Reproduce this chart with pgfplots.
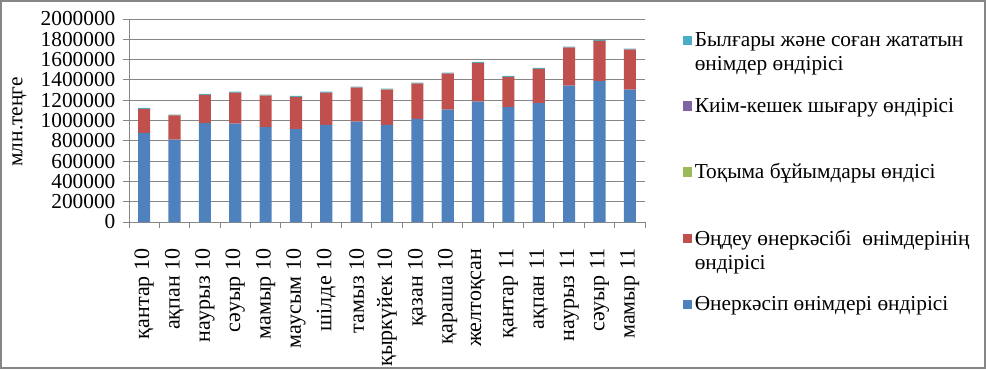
\documentclass[border=0pt]{standalone}
\usepackage{fontspec}
\setmainfont{Liberation Serif}
\usepackage{pgfplots}
\usepackage{pgfplotstable}
\pgfplotsset{compat=1.18}
\definecolor{cblue}{HTML}{4F81BD}
\definecolor{cred}{HTML}{C0504D}
\definecolor{cgreen}{HTML}{9BBB59}
\definecolor{cpurple}{HTML}{8064A2}
\definecolor{ccyan}{HTML}{4BACC6}
\definecolor{cgrid}{HTML}{868686}
\pgfplotstableread{
x blue red green purple cyan
0 877000 236000 1500 1000 10000
1 811000 240000 1500 1000 5000
2 975000 276000 1500 1000 8000
3 969000 302000 1500 1000 10000
4 936000 309000 1500 1000 7000
5 916000 315000 1500 1000 10000
6 956000 315000 1500 1000 10000
7 988000 335000 1500 1000 8000
8 956000 348000 1500 1000 8000
9 1015000 348000 1500 1000 8000
10 1107000 354000 1500 1000 8000
11 1186000 380000 1500 1000 10000
12 1133000 295000 1500 1000 10000
13 1172000 335000 1500 1000 10000
14 1343000 374000 1500 1000 8000
15 1389000 394000 1500 1000 8000
16 1304000 394000 1500 1000 8000
}\datatable
\begin{document}
\begin{tikzpicture}
\path[use as bounding box] (0,0) rectangle (739.5pt,276.75pt);
\draw[cgrid, line width=1.5pt] (0.75pt,0.75pt) rectangle (738.75pt,276pt);
\begin{axis}[
  at={(96.75pt,110.25pt)}, anchor=south west,
  scale only axis, width=387pt, height=152.25pt,
  ybar stacked, bar width=0.4,
  xmin=-0.5, xmax=16.5,
  ymin=0, ymax=2000000,
  axis x line*=bottom, axis y line*=left,
  axis line style={cgrid, line width=0.75pt},
  ytick={0,200000,400000,600000,800000,1000000,1200000,1400000,1600000,1800000,2000000},
  scaled y ticks=false,
  /pgf/number format/fixed,
  /pgf/number format/1000 sep={},
  /pgf/number format/assume math mode=true,
  yticklabel style={font=\fontsize{16}{16}\selectfont, inner sep=1pt, xshift=-4.5pt},
  ymajorgrids, major grid style={cgrid, line width=0.75pt},
  tick align=outside,
  ytick style={cgrid, line width=0.75pt},
  major tick length=4.5pt,
  xtick={0,...,16},
  x tick style={draw=none},
  minor xtick={-0.5,0.5,1.5,2.5,3.5,4.5,5.5,6.5,7.5,8.5,9.5,10.5,11.5,12.5,13.5,14.5,15.5,16.5},
  minor x tick style={cgrid, line width=0.75pt, draw=cgrid},
  minor tick length=4.5pt,
  xticklabels={қантар 10,ақпан 10,наурыз 10,сәуыр 10,мамыр 10,маусым 10,шілде 10,тамыз 10,қыркүйек 10,қазан 10,қараша 10,желтоқсан,қантар 11,ақпан 11,наурыз 11,сәуыр 11,мамыр 11},
  xticklabel style={rotate=90, anchor=east, font=\fontsize{16.5}{16.5}\selectfont, xshift=-12pt},
  reverse legend,
  legend cell align=left,
  legend style={at={(axis description cs:1.065,0.96)}, anchor=north west, draw=none, fill=none,
    font=\fontsize{16}{18}\selectfont, row sep=15pt, cells={align=left}},
  legend image code/.code={\fill[#1] (0pt,5.6pt) rectangle (7pt,12.6pt);},
]
\addplot[fill=cblue, draw=none] table[x=x, y=blue] {\datatable};
\addplot[fill=cred, draw=none] table[x=x, y=red] {\datatable};
\addplot[fill=cgreen, draw=none] table[x=x, y=green] {\datatable};
\addplot[fill=cpurple, draw=none] table[x=x, y=purple] {\datatable};
\addplot[fill=ccyan, draw=none] table[x=x, y=cyan] {\datatable};
\legend{{Өнеркәсіп өнімдері өндірісі\\\strut},{Өңдеу өнеркәсібі\ \ өнімдерінің\\өндірісі},{Тоқыма бұйымдары өндісі\\\strut},{Киім-кешек шығару өндірісі\\\strut},{Былғары және соған жататын\\өнімдер өндірісі}}
\end{axis}
\node[rotate=90, font=\fontsize{16}{16}\selectfont, anchor=center, inner sep=0pt] at (14.5pt,185.25pt) {млн.теңге};
\end{tikzpicture}
\end{document}
